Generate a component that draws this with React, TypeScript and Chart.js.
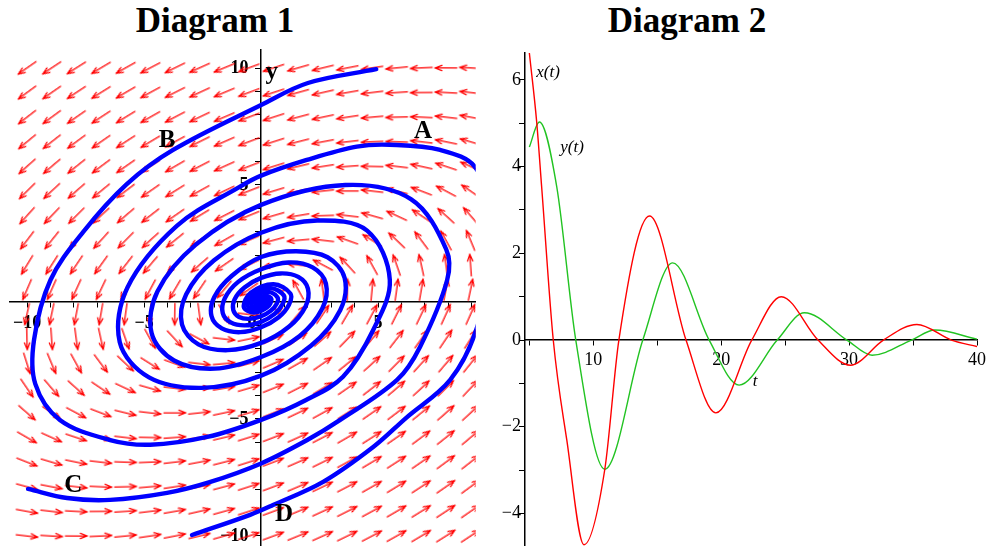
import React, { useEffect, useRef } from 'react';
import { Chart, registerables } from 'chart.js';
Chart.register(...registerables);

// ---------- Diagram 1 : direction field + trajectories ----------
const FIELD_X = [-10, -8.947, -7.895, -6.842, -5.789, -4.737, -3.684, -2.632, -1.579, -0.526, 0.526, 1.579, 2.632, 3.684, 4.737, 5.789, 6.842, 7.895, 8.947, 10];
const FIELD_Y = [-10, -8.947, -7.895, -6.842, -5.789, -4.737, -3.684, -2.632, -1.579, -0.526, 0.526, 1.579, 2.632, 3.684, 4.737, 5.789, 6.842, 7.895, 8.947, 10];
// linear system x' = a x + b y, y' = c x + d y (estimated from the arrows)
const FIELD_MATRIX = [[0.15, -1.0], [0.45, -0.35]];

const TRAJ_B: number[][] = [
  [4.92, 9.95], [2.0, 9.36], [0, 8.42], [-3.76, 6.5], [-5.74, 5.04], [-7.6, 3.0], [-9.0, 0.94], [-9.7, -1.6], [-9.65, -3.5],
  [-8.6, -5.04], [-6.45, -5.9], [-4.74, -6.1], [-2.3, -5.77], [0, -5.04], [1.9, -4.2], [3.5, -3.2], [4.79, -1.2], [5.5, 0.94],
  [4.53, 3.05], [2.4, 3.48], [0, 2.96], [-2.02, 1.77], [-3.2, 0.33], [-3.38, -0.96], [-2.68, -1.81], [-1.42, -2.06],
  [0, -1.75], [1.2, -1.05], [1.9, -0.19], [2.0, 0.57], [1.59, 1.07], [0.84, 1.22], [0, 1.03], [-0.71, 0.62], [-1.13, 0.12],
  [-1.19, -0.34], [-0.94, -0.64], [-0.5, -0.72], [0, -0.61], [0.42, -0.37], [0.67, -0.07], [0.7, 0.2], [0.29, 0.43],
  [-0.25, 0.22], [-0.415, -0.12], [-0.17, -0.25], [0.15, -0.13], [0.245, 0.07], [0.1, 0.15], [-0.09, 0.08], [-0.145, -0.04],
  [-0.06, -0.09], [0.05, -0.04], [0, 0],
];
const TRAJ_C: number[][] = [
  [-9.96, -7.99], [-8.29, -8.38], [-6.45, -8.46], [-4.02, -8.16], [-2.2, -7.7], [0, -6.9], [1.97, -5.9], [3.38, -5.04],
  [5.81, -3.33], [6.79, -1.92], [7.95, 0.94], [7.91, 2.25], [6.4, 4.4], [3.6, 5.0], [0, 4.15], [-2.79, 2.45], [-4.43, 0.45],
  [-4.68, -1.33], [-3.72, -2.5], [-1.97, -2.85], [0, -2.35], [1.65, -1.45], [2.62, -0.27], [2.77, 0.79], [2.2, 1.48],
  [1.17, 1.69], [0, 1.4], [-0.98, 0.86], [-1.55, 0.16], [-1.64, -0.47], [-1.3, -0.87], [-0.69, -1.0], [0, -0.85],
  [0.58, -0.51], [0.92, -0.09], [0.97, 0.28], [0.41, 0.59], [-0.34, 0.3], [-0.575, -0.16], [-0.24, -0.35], [0.2, -0.18],
  [0.34, 0.1], [0.14, 0.21], [-0.12, 0.105], [-0.2, -0.06], [-0.085, -0.12], [0.07, -0.06], [0.12, 0.03], [0, 0],
];
const TRAJ_D: number[][] = [
  [-2.95, -9.96], [-0.47, -9.1], [0.51, -8.68], [2.65, -7.69], [4.79, -6.2], [6.2, -4.95], [8.08, -3.33], [9.19, -1.2],
  [10.1, 2.9], [9.17, 5.73], [7.65, 6.5], [5.5, 6.72], [4.09, 6.64], [1.95, 6.07], [0, 5.4], [-0.9, 4.93], [-3.6, 3.25],
  [-5.71, 0.62], [-6.04, -1.72], [-4.79, -3.22], [-2.54, -3.67], [0, -3.15], [2.13, -1.87], [3.38, -0.35], [3.57, 1.02],
  [2.84, 1.91], [1.5, 2.17], [0, 1.92], [-1.26, 1.11], [-2.0, 0.21], [-2.12, -0.6], [-1.68, -1.13], [-0.89, -1.29],
  [0, -1.08], [0.75, -0.65], [1.19, -0.12], [1.25, 0.36], [0.53, 0.76], [-0.44, 0.39], [-0.74, -0.21], [-0.31, -0.45],
  [0.26, -0.23], [0.44, 0.125], [0.185, 0.27], [-0.155, 0.14], [-0.26, -0.074], [-0.11, -0.16], [0.09, -0.08], [0.15, 0.04], [0, 0],
];
const D1_X_LABELS = [-10, -5, 0, 5];
const D1_Y_LABELS = [-10, -5, 5, 10];
const D1_TEXT: [string, number, number][] = [['A', 6.92, 7.3], ['B', -4.02, 6.92], ['C', -8.03, -7.86], ['D', 0.98, -9.1], ['y', 0.45, 9.8]];

// ---------- Diagram 2 : x(t), y(t) ----------
const T_X = [5, 5.57, 5.96, 6.87, 7.93, 9.27, 10.9, 12.0, 14.4, 17.25, 19.58, 22.39, 24.7, 27.57, 30.1, 32.68, 35.3, 38.0, 40];
const X_VALUES = [6.62, 5.04, 3.54, 0, -2.31, -4.72, -2.98, 0, 2.86, 0, -1.68, 0, 1.0, 0, -0.58, 0, 0.36, 0, -0.15];
const T_Y = [5, 5.78, 7.14, 8.63, 10.9, 13.87, 16.2, 19.06, 21.4, 24.38, 26.5, 29.83, 31.8, 34.88, 36.7, 40];
const Y_VALUES = [4.45, 5.03, 3.54, 0, -2.98, 0, 1.78, 0, -1.04, 0, 0.63, 0, -0.35, 0, 0.23, 0.02];
const D2_TEXT: [string, number, number][] = [['x(t)', 6.46, 6.16], ['y(t)', 8.34, 4.43], ['t', 22.66, -0.95]];

const fmt = (v: number) => (v < 0 ? '\u2212' + Math.abs(v) : String(v));

function makeArrow(): HTMLCanvasElement {
  const c = document.createElement('canvas');
  c.width = 26; c.height = 26;
  const g = c.getContext('2d')!;
  g.strokeStyle = '#ff0000';
  g.lineWidth = 1.25;
  g.lineCap = 'round';
  g.beginPath();
  g.moveTo(2, 13); g.lineTo(24, 13);
  g.moveTo(24, 13); g.lineTo(17, 10.3);
  g.moveTo(24, 13); g.lineTo(17, 15.7);
  g.stroke();
  return c;
}

const noPad = (s: any) => { s.paddingTop = 0; s.paddingBottom = 0; s.paddingLeft = 0; s.paddingRight = 0; };

// place the plot area exactly where wanted (canvas pixels)
function fitArea(ch: any, pad: { left: number; right: number; top: number; bottom: number }, want: { left: number; right: number; top: number; bottom: number }) {
  const ca = ch.chartArea;
  ch.options.layout.padding = {
    left: pad.left + (want.left - ca.left),
    top: pad.top + (want.top - ca.top),
    right: pad.right + (ca.right - want.right),
    bottom: pad.bottom + (ca.bottom - want.bottom),
  };
  ch.update();
}

const textPlugin = (items: [string, number, number][], font: string) => ({
  id: 'texts',
  afterDraw(chart: any) {
    const { ctx, scales } = chart;
    ctx.save();
    ctx.fillStyle = '#000';
    ctx.font = font;
    ctx.textAlign = 'center';
    ctx.textBaseline = 'middle';
    for (const [s, x, y] of items) ctx.fillText(s, scales.x.getPixelForValue(x), scales.y.getPixelForValue(y));
    ctx.restore();
  },
});

export default function App() {
  const c1 = useRef<HTMLCanvasElement>(null);
  const c2 = useRef<HTMLCanvasElement>(null);
  useEffect(() => {
    const arrow = makeArrow();
    const [[a, b], [c, d]] = FIELD_MATRIX;
    const field: any[] = [];
    for (const y of FIELD_Y) for (const x of FIELD_X) {
      const u = a * x + b * y, v = c * x + d * y;
      field.push({ x, y, r: -Math.atan2(v, u) * 180 / Math.PI });
    }
    const traj = (pts: number[][]) => ({
      data: pts.map(([x, y]) => ({ x, y })), showLine: true, borderColor: '#0000ff', borderWidth: 4.4,
      pointRadius: 0, tension: 0.35, order: 1, clip: 0, borderJoinStyle: 'round' as const, borderCapStyle: 'round' as const,
    });
    const tickFont1 = { family: 'Liberation Serif', weight: 'bold' as const, size: 18 };
    const pad1 = { left: 10, right: 14, top: 50, bottom: 0 };
    const ch1 = new Chart(c1.current!, {
      type: 'scatter',
      data: {
        datasets: [
          traj(TRAJ_B), traj(TRAJ_C), traj(TRAJ_D),
          { data: field, pointStyle: arrow as any, pointRadius: 10, rotation: (ctx: any) => ctx.raw?.r ?? 0, order: 2, clip: 0 } as any,
        ],
      },
      options: {
        responsive: false, animation: false, events: [],
        layout: { autoPadding: false, padding: { ...pad1 } },
        plugins: { legend: { display: false }, tooltip: { enabled: false } },
        scales: {
          x: {
            type: 'linear', min: -10.73, max: 9.17, position: { y: 0 } as any, z: 1,
            afterFit: (s: any) => { s.height = 0; noPad(s); },
            ticks: { stepSize: 1, includeBounds: false, autoSkip: false, maxRotation: 0, color: '#000', font: tickFont1, padding: 6,
              callback: (v: any) => (D1_X_LABELS.includes(v) ? (v === 0 ? '0\u2003' : fmt(v)) : '') },
            grid: { drawOnChartArea: false, drawTicks: true, tickLength: 5, color: '#000' },
            border: { color: '#000', width: 1.5 },
          },
          y: {
            type: 'linear', min: -10.43, max: 10.77, position: { x: 0 } as any, z: 1,
            afterFit: (s: any) => { s.width = 0; noPad(s); },
            ticks: { stepSize: 1, includeBounds: false, autoSkip: false, color: '#000', font: tickFont1,
              callback: (v: any) => (D1_Y_LABELS.includes(v) ? fmt(v) + '\u2002\u2009' : '') },
            grid: { drawOnChartArea: false, drawTicks: true, tickLength: 5, color: '#000' },
            border: { color: '#000', width: 1.5 },
          },
        },
      },
      plugins: [textPlugin(D1_TEXT, 'bold 25px "Liberation Serif"')],
    });
    fitArea(ch1, pad1, { left: 10, right: 475.7, top: 50, bottom: 546 });

    const tickFont2 = { family: 'Liberation Serif', size: 18 };
    const pad2 = { left: 0, right: 17, top: 53, bottom: 0 };
    const ch2 = new Chart(c2.current!, {
      type: 'scatter',
      data: {
        datasets: [
          { data: T_X.map((t, i) => ({ x: t, y: X_VALUES[i] })), showLine: true, borderColor: '#ff0000', borderWidth: 1.4, pointRadius: 0, cubicInterpolationMode: 'monotone', clip: 0 } as any,
          { data: T_Y.map((t, i) => ({ x: t, y: Y_VALUES[i] })), showLine: true, borderColor: '#22c322', borderWidth: 1.4, pointRadius: 0, cubicInterpolationMode: 'monotone', clip: 0 } as any,
        ],
      },
      options: {
        responsive: false, animation: false, events: [],
        layout: { autoPadding: false, padding: { ...pad2 } },
        plugins: { legend: { display: false }, tooltip: { enabled: false } },
        scales: {
          x: {
            type: 'linear', min: 4.66, max: 40, position: { y: 0 } as any,
            afterFit: (s: any) => { s.height = 0; noPad(s); },
            ticks: { stepSize: 5, includeBounds: false, autoSkip: false, maxRotation: 0, color: '#000', font: tickFont2, padding: 4,
              callback: (v: any) => (v % 10 === 0 ? fmt(v) : '') },
            grid: { drawOnChartArea: false, drawTicks: true, tickLength: 5, color: '#000' },
            border: { color: '#000', width: 1.5 },
          },
          y: {
            type: 'linear', min: -4.75, max: 6.62, position: 'left',
            afterFit: (s: any) => { s.width = 35; noPad(s); },
            ticks: { stepSize: 1, includeBounds: false, autoSkip: false, color: '#000', font: tickFont2, padding: -2,
              callback: (v: any) => (v % 2 === 0 ? fmt(v) : '') },
            grid: { drawOnChartArea: false, drawTicks: true, tickLength: 6, color: '#000' },
            border: { color: '#000', width: 1.5 },
          },
        },
      },
      plugins: [textPlugin(D2_TEXT, 'italic 17px "Liberation Serif"')],
    });
    fitArea(ch2, pad2, { left: 35, right: 487, top: 53, bottom: 546 });
    return () => { ch1.destroy(); ch2.destroy(); };
  }, []);

  const title: React.CSSProperties = { position: 'absolute', top: 4, width: 300, textAlign: 'center', font: 'bold 35px "Liberation Serif"', lineHeight: '34px', color: '#000' };
  return (
    <div style={{ position: 'absolute', left: 0, top: 0, width: 994, height: 546, background: '#fff', overflow: 'hidden' }}>
      <div style={{ ...title, left: 65 }}>Diagram 1</div>
      <div style={{ ...title, left: 537 }}>Diagram 2</div>
      <canvas ref={c1} width={490} height={546} style={{ position: 'absolute', left: 0, top: 0 }} />
      <canvas ref={c2} width={504} height={546} style={{ position: 'absolute', left: 490, top: 0 }} />
    </div>
  );
}
